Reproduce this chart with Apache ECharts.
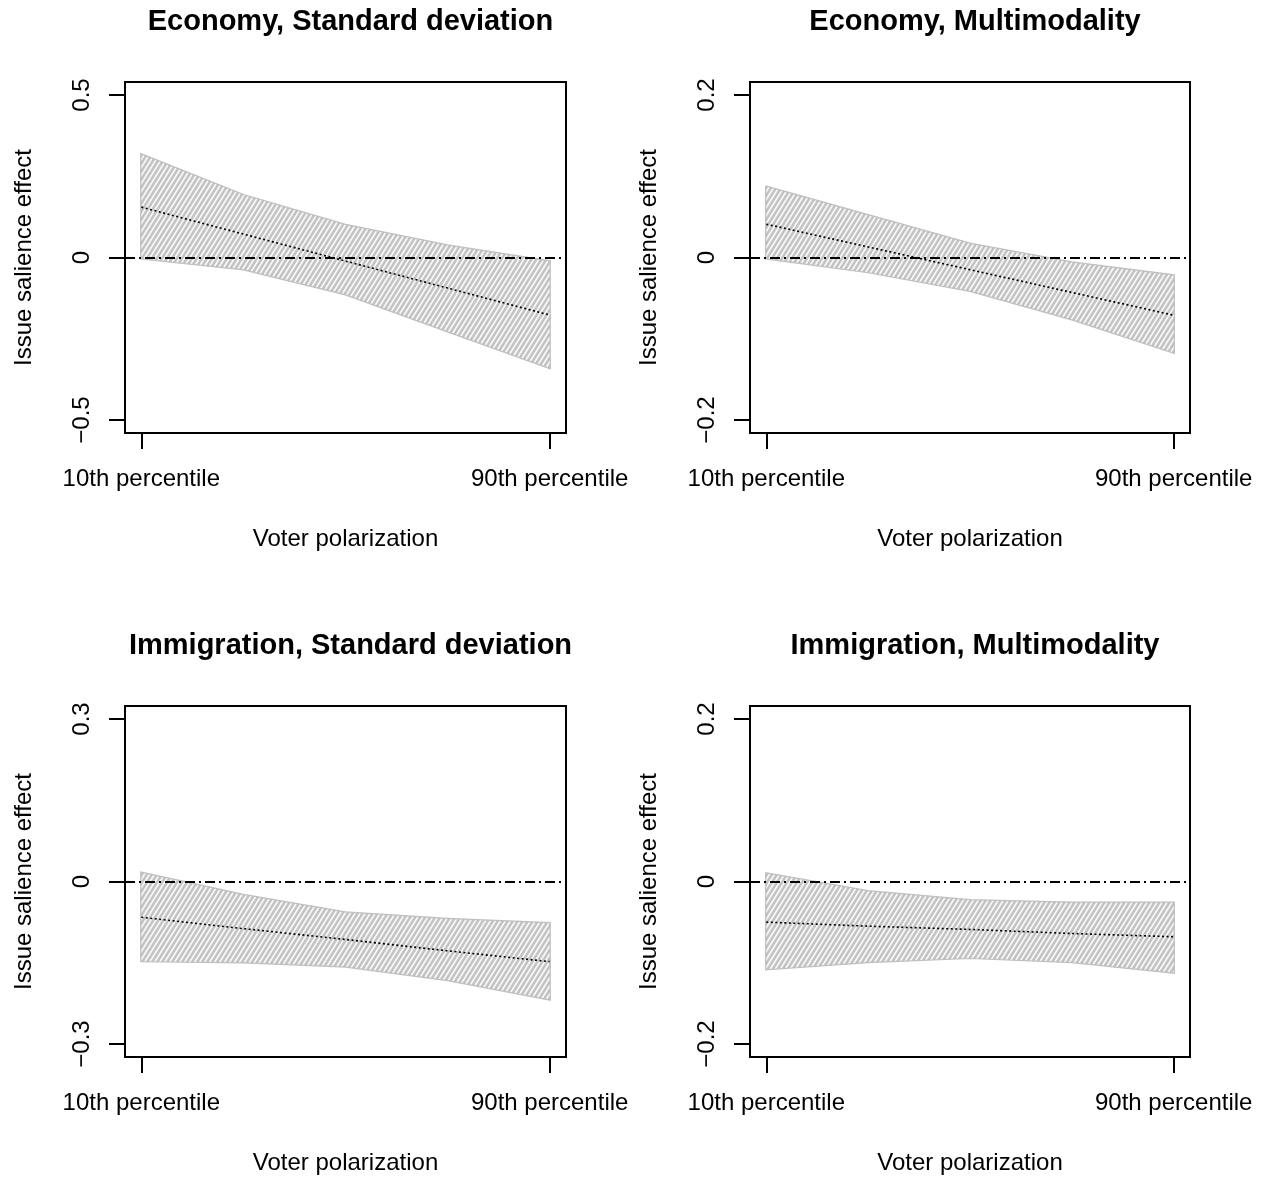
<!DOCTYPE html>
<html>
<head>
<meta charset="utf-8">
<script src="https://cdn.jsdelivr.net/npm/echarts@6/dist/echarts.min.js"></script>
<style>
html,body{margin:0;padding:0;background:#fff;}
#chart{width:1266px;height:1178px;}
</style>
</head>
<body>
<div id="chart"></div>
<script>
// ---- data ----
const xPositions = [0, 0.25, 0.5, 0.75, 1];
const xTickValues = [0, 1];
const xTickLabels = ['10th percentile', '90th percentile'];
const xAxisTitle = 'Voter polarization';
const yAxisTitle = 'Issue salience effect';
const panelTitles = ['Economy, Standard deviation', 'Economy, Multimodality', 'Immigration, Standard deviation', 'Immigration, Multimodality'];

const econSdTicks = [-0.5, 0, 0.5];
const econSdCenter = [0.155, 0.072, -0.011, -0.094, -0.177];
const econSdUpper = [0.317, 0.192, 0.100, 0.037, -0.012];
const econSdLower = [-0.003, -0.036, -0.113, -0.227, -0.340];

const econMmTicks = [-0.2, 0, 0.2];
const econMmCenter = [0.041, 0.013, -0.015, -0.043, -0.071];
const econMmUpper = [0.087, 0.052, 0.017, -0.006, -0.022];
const econMmLower = [-0.001, -0.018, -0.041, -0.076, -0.117];

const immSdTicks = [-0.3, 0, 0.3];
const immSdCenter = [-0.066, -0.087, -0.107, -0.128, -0.148];
const immSdUpper = [0.016, -0.025, -0.057, -0.069, -0.077];
const immSdLower = [-0.147, -0.149, -0.157, -0.182, -0.218];

const immMmTicks = [-0.2, 0, 0.2];
const immMmCenter = [-0.050, -0.055, -0.059, -0.064, -0.068];
const immMmUpper = [0.010, -0.012, -0.023, -0.026, -0.026];
const immMmLower = [-0.108, -0.099, -0.094, -0.099, -0.112];

// ---- build ----
const FONT = '"Liberation Sans", Arial, Helvetica, sans-serif';

function hatchCanvas() {
  // antialiased "/" hatch: stripe coordinate u = x + k*y, period 5px
  const period = 5, k = 0.625, whiteW = 1.9, W = 5, H = 8, S = 6;
  const c = document.createElement('canvas');
  c.width = W; c.height = H;
  const ctx = c.getContext('2d');
  const img = ctx.createImageData(W, H);
  for (let y = 0; y < H; y++) {
    for (let x = 0; x < W; x++) {
      let hit = 0;
      for (let sy = 0; sy < S; sy++) {
        for (let sx = 0; sx < S; sx++) {
          const u = (x + (sx + 0.5) / S) + k * (y + (sy + 0.5) / S);
          const m = ((u % period) + period) % period;
          if (m < whiteW) hit++;
        }
      }
      const idx = (y * W + x) * 4;
      img.data[idx] = 255; img.data[idx + 1] = 255; img.data[idx + 2] = 255;
      img.data[idx + 3] = Math.round(255 * 0.92 * hit / (S * S));
    }
  }
  ctx.putImageData(img, 0, 0);
  return c;
}
const hatch = hatchCanvas();

const panels = [
  {ticks: econSdTicks, center: econSdCenter, upper: econSdUpper, lower: econSdLower, left: 125, top: 82, width: 441},
  {ticks: econMmTicks, center: econMmCenter, upper: econMmUpper, lower: econMmLower, left: 750, top: 82, width: 440},
  {ticks: immSdTicks, center: immSdCenter, upper: immSdUpper, lower: immSdLower, left: 125, top: 706, width: 441},
  {ticks: immMmTicks, center: immMmCenter, upper: immMmUpper, lower: immMmLower, left: 750, top: 706, width: 440}
];

function fmtY(v) {
  if (v === 0) return '0';
  return (v < 0 ? '\u2212' : '') + String(Math.abs(v));
}

const grids = [], xAxes = [], yAxes = [], series = [], titles = [];
panels.forEach((p, i) => {
  const H = 351;
  grids.push({left: p.left, top: p.top, width: p.width, height: H, show: true,
    borderColor: '#000', borderWidth: 2, backgroundColor: 'transparent', outerBoundsMode: 'none', containLabel: false});
  titles.push({text: panelTitles[i], left: p.left + p.width / 2, top: p.top - 80, textAlign: 'center',
    textStyle: {fontFamily: FONT, fontSize: 29, fontWeight: 'bold', color: '#000'}});
  const tmax = Math.max.apply(null, p.ticks);
  const ext = tmax * 1.08;
  xAxes.push({type: 'value', gridIndex: i, min: -0.04, max: 1.04,
    axisLine: {show: false, onZero: false}, splitLine: {show: false},
    axisTick: {show: true, inside: false, length: 16, customValues: xTickValues, lineStyle: {color: '#000', width: 2}},
    axisLabel: {show: true, customValues: xTickValues, margin: 34, color: '#000', fontFamily: FONT, fontSize: 24,
      formatter: v => xTickLabels[xTickValues.indexOf(v)] || ''},
    name: xAxisTitle, nameLocation: 'middle', nameGap: 94,
    nameTextStyle: {fontFamily: FONT, fontSize: 24, color: '#000'}});
  yAxes.push({type: 'value', gridIndex: i, min: -ext, max: ext,
    axisLine: {show: false, onZero: false}, splitLine: {show: false},
    axisTick: {show: true, inside: false, length: 16, customValues: p.ticks, lineStyle: {color: '#000', width: 2}},
    axisLabel: {show: true, customValues: p.ticks, rotate: 90, margin: 31, color: '#000', fontFamily: FONT, fontSize: 24,
      formatter: fmtY},
    name: yAxisTitle, nameLocation: 'middle', nameGap: 89, nameRotate: 90,
    nameTextStyle: {fontFamily: FONT, fontSize: 24, color: '#000'}});

  const polyPoints = (api) => {
    const pts = [];
    for (let j = 0; j < xPositions.length; j++) pts.push(api.coord([xPositions[j], p.upper[j]]));
    for (let j = xPositions.length - 1; j >= 0; j--) pts.push(api.coord([xPositions[j], p.lower[j]]));
    return pts;
  };
  // zero reference line
  series.push({type: 'line', xAxisIndex: i, yAxisIndex: i, z: 1, silent: true,
    data: xPositions.map((x, j) => [x, p.center[j]]), symbol: 'none', lineStyle: {opacity: 0},
    markLine: {silent: true, symbol: ['none', 'none'], label: {show: false},
      lineStyle: {color: '#000', width: 2, type: [10, 4, 2, 4]},
      data: [{yAxis: 0}]}
  });
  // gray band
  series.push({type: 'custom', xAxisIndex: i, yAxisIndex: i, z: 2, silent: true,
    data: [[0, 0]],
    renderItem: (params, api) => ({type: 'polygon', shape: {points: polyPoints(api)},
      style: {fill: 'rgba(186,186,186,0.85)', stroke: '#c0c0c0', lineWidth: 2.5}})
  });
  // white hatching
  series.push({type: 'custom', xAxisIndex: i, yAxisIndex: i, z: 3, silent: true,
    data: [[0, 0]],
    renderItem: (params, api) => ({type: 'polygon', shape: {points: polyPoints(api)},
      style: {fill: {image: hatch, repeat: 'repeat'}, stroke: 'none'}})
  });
  // fitted line
  series.push({type: 'line', xAxisIndex: i, yAxisIndex: i, z: 4, silent: true,
    data: xPositions.map((x, j) => [x, p.center[j]]), symbol: 'none',
    lineStyle: {color: '#000', width: 1.6, type: [2, 2.5]}
  });
});

const chart = echarts.init(document.getElementById('chart'), null, {renderer: 'canvas'});
chart.setOption({
  animation: false,
  backgroundColor: '#fff',
  title: titles,
  grid: grids,
  xAxis: xAxes,
  yAxis: yAxes,
  series: series
});
</script>
</body>
</html>
